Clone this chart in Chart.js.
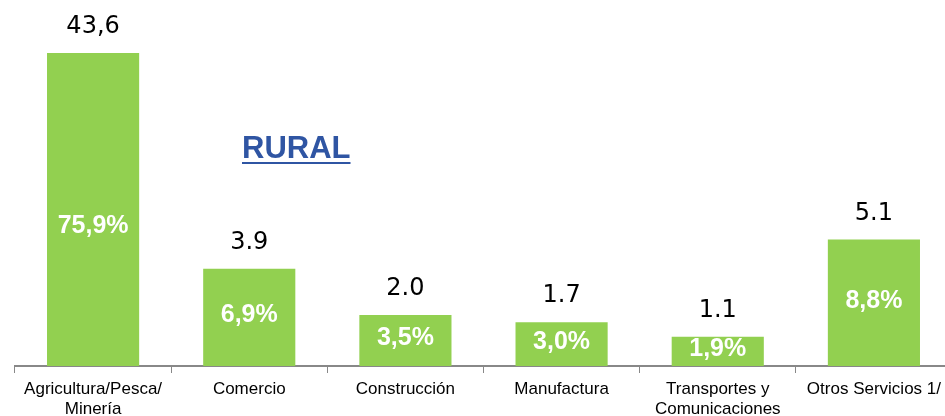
<!DOCTYPE html>
<html lang="es">
<head>
    <meta charset="UTF-8">
    <title>Rural</title>
    <script src="https://cdn.jsdelivr.net/npm/chart.js"></script>
    <style>
        body {
            margin: 0;
            overflow: hidden;
            background-color: white;
        }
        .chart-container {
            position: relative;
            width: 952px;
            height: 416px;
        }
        .titulo {
            position: absolute;
            left: 242px;
            top: 132px;
            font-family: "Liberation Sans", Arial, sans-serif;
            font-weight: bold;
            font-size: 31px;
            line-height: 31px;
            color: #2F55A3;
            text-decoration: underline;
            text-decoration-thickness: 2px;
            text-underline-offset: 4px;
        }
    </style>
</head>
<body>
    <div class="chart-container">
        <canvas id="ruralChart"></canvas>
        <div class="titulo">RURAL</div>
    </div>

    <script>
        const categories = [
            ['Agricultura/Pesca/', 'Minería'],
            'Comercio',
            'Construcción',
            'Manufactura',
            ['Transportes y', 'Comunicaciones'],
            'Otros Servicios 1/'
        ];
        const values = [43.6, 3.9, 2.0, 1.7, 1.1, 5.1];
        const valueLabels = ['43,6', '3.9', '2.0', '1.7', '1.1', '5.1'];
        const shareLabels = ['75,9%', '6,9%', '3,5%', '3,0%', '1,9%', '8,8%'];

        // labels above and inside the bars
        const barLabels = {
            id: 'barLabels',
            afterDatasetsDraw(chart) {
                const ctx = chart.ctx;
                const area = chart.chartArea;
                const meta = chart.getDatasetMeta(0);
                ctx.save();
                ctx.textAlign = 'center';
                ctx.textBaseline = 'alphabetic';
                meta.data.forEach((bar, i) => {
                    const clipped = bar.y < area.top;
                    const top = Math.max(bar.y, area.top);
                    ctx.fillStyle = '#000';
                    ctx.font = '24px "DejaVu Sans", sans-serif';
                    ctx.fillText(valueLabels[i], bar.x, top - 20);

                    let mid = (top + bar.base) / 2 - 4;
                    if (clipped) mid += 18;
                    ctx.fillStyle = '#fff';
                    ctx.font = 'bold 25px "Liberation Sans", Arial, sans-serif';
                    ctx.fillText(shareLabels[i], bar.x, mid + 9);
                });
                ctx.restore();
            }
        };

        const ctx = document.getElementById('ruralChart').getContext('2d');
        new Chart(ctx, {
            type: 'bar',
            data: {
                labels: categories,
                datasets: [{
                    data: values,
                    backgroundColor: '#92D050',
                    categoryPercentage: 1,
                    barPercentage: 0.59,
                    base: -0.1,
                    clip: 0
                }]
            },
            options: {
                responsive: true,
                maintainAspectRatio: false,
                animation: false,
                layout: {
                    padding: { top: 53, left: 15, right: 0, bottom: 0 }
                },
                plugins: {
                    legend: { display: false },
                    tooltip: { enabled: false }
                },
                scales: {
                    y: {
                        display: false,
                        min: -0.1,
                        max: 12.77
                    },
                    x: {
                        afterFit(scale) {
                            scale.height = 50;
                        },
                        grid: {
                            drawOnChartArea: false,
                            offset: true,
                            tickLength: 7,
                            color: '#888'
                        },
                        border: {
                            color: '#888',
                            width: 2
                        },
                        ticks: {
                            color: '#000',
                            padding: 6,
                            maxRotation: 0,
                            autoSkip: false,
                            font: {
                                family: '"Liberation Sans", Arial, sans-serif',
                                size: 17,
                                lineHeight: 1.18
                            }
                        }
                    }
                }
            },
            plugins: [barLabels]
        });
    </script>
</body>
</html>
